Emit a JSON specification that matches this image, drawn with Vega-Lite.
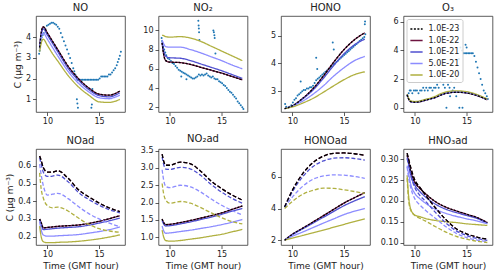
{
"$schema": "https://vega.github.io/schema/vega-lite/v6.json",
"padding": {"left": 5, "top": 2, "right": 3, "bottom": 2},
"config": {
  "view": {"stroke": "#333", "strokeWidth": 0.8},
  "axis": {"grid": false, "domain": false, "tickColor": "#333", "tickSize": 3.5, "tickWidth": 0.8, "labelFont": "DejaVu Sans", "labelFontSize": 8, "labelColor": "#222", "labelPadding": 2, "titleFont": "DejaVu Sans", "titleFontSize": 9, "titleFontWeight": "normal", "titleColor": "#222", "titlePadding": 3},
  "title": {"font": "DejaVu Sans", "fontSize": 10, "fontWeight": "normal", "color": "#222", "offset": 3},
  "line": {"strokeWidth": 1.3}
},
"datasets": {
"obs": [
{"p":"NO","x":9.2,"y":3.2},{"p":"NO","x":9.25,"y":3.35},{"p":"NO","x":9.3,"y":3.5},{"p":"NO","x":9.35,"y":3.7},{"p":"NO","x":9.4,"y":3.85},{"p":"NO","x":9.45,"y":4.0},{"p":"NO","x":9.55,"y":4.1},{"p":"NO","x":9.65,"y":4.2},{"p":"NO","x":9.8,"y":4.4},{"p":"NO","x":9.95,"y":4.55},{"p":"NO","x":10.1,"y":4.6},{"p":"NO","x":10.25,"y":4.65},{"p":"NO","x":10.4,"y":4.7},{"p":"NO","x":10.55,"y":4.7},{"p":"NO","x":10.7,"y":4.65},{"p":"NO","x":10.85,"y":4.6},{"p":"NO","x":11.0,"y":4.5},{"p":"NO","x":11.15,"y":4.4},{"p":"NO","x":11.3,"y":4.2},{"p":"NO","x":11.45,"y":4.0},{"p":"NO","x":11.6,"y":3.8},{"p":"NO","x":11.75,"y":3.6},{"p":"NO","x":11.9,"y":3.4},{"p":"NO","x":12.05,"y":3.2},{"p":"NO","x":12.2,"y":3.0},{"p":"NO","x":12.35,"y":2.75},{"p":"NO","x":12.5,"y":2.5},{"p":"NO","x":12.6,"y":2.35},{"p":"NO","x":12.7,"y":2.2},{"p":"NO","x":12.8,"y":2.05},{"p":"NO","x":12.9,"y":1.95},{"p":"NO","x":13.0,"y":1.95},{"p":"NO","x":13.1,"y":1.95},{"p":"NO","x":13.25,"y":1.95},{"p":"NO","x":13.4,"y":1.95},{"p":"NO","x":13.55,"y":1.95},{"p":"NO","x":13.7,"y":1.95},{"p":"NO","x":13.85,"y":1.95},{"p":"NO","x":14.0,"y":1.95},{"p":"NO","x":14.15,"y":1.95},{"p":"NO","x":14.3,"y":1.95},{"p":"NO","x":14.45,"y":1.95},{"p":"NO","x":14.6,"y":1.95},{"p":"NO","x":14.75,"y":1.95},{"p":"NO","x":14.9,"y":1.95},{"p":"NO","x":15.05,"y":2.0},{"p":"NO","x":15.2,"y":2.1},{"p":"NO","x":15.35,"y":2.1},{"p":"NO","x":15.5,"y":2.1},{"p":"NO","x":15.65,"y":2.1},{"p":"NO","x":15.8,"y":2.1},{"p":"NO","x":15.95,"y":2.2},{"p":"NO","x":16.1,"y":2.2},{"p":"NO","x":16.25,"y":2.3},{"p":"NO","x":16.4,"y":2.4},{"p":"NO","x":16.55,"y":2.5},{"p":"NO","x":16.7,"y":2.65},{"p":"NO","x":16.8,"y":2.8},{"p":"NO","x":16.9,"y":2.95},{"p":"NO","x":17.0,"y":3.1},{"p":"NO","x":17.1,"y":3.3},{"p":"NO","x":12.85,"y":1.0},{"p":"NO","x":12.9,"y":0.8},{"p":"NO","x":12.95,"y":0.6},{"p":"NO","x":14.25,"y":0.6},{"p":"NO","x":14.3,"y":0.75},{"p":"NO","x":14.35,"y":1.5},
{"p":"NO2","x":9.2,"y":9.2},{"p":"NO2","x":9.25,"y":8.9},{"p":"NO2","x":9.3,"y":8.6},{"p":"NO2","x":9.35,"y":8.3},{"p":"NO2","x":9.45,"y":8.0},{"p":"NO2","x":9.55,"y":7.7},{"p":"NO2","x":9.65,"y":7.4},{"p":"NO2","x":9.8,"y":7.1},{"p":"NO2","x":9.95,"y":7.0},{"p":"NO2","x":10.1,"y":6.8},{"p":"NO2","x":10.25,"y":6.6},{"p":"NO2","x":10.4,"y":6.5},{"p":"NO2","x":10.55,"y":6.3},{"p":"NO2","x":10.7,"y":6.1},{"p":"NO2","x":10.85,"y":5.9},{"p":"NO2","x":11.0,"y":5.8},{"p":"NO2","x":11.15,"y":5.7},{"p":"NO2","x":11.3,"y":5.6},{"p":"NO2","x":11.45,"y":5.5},{"p":"NO2","x":11.6,"y":5.4},{"p":"NO2","x":11.75,"y":5.3},{"p":"NO2","x":11.9,"y":5.2},{"p":"NO2","x":12.05,"y":5.1},{"p":"NO2","x":12.2,"y":5.0},{"p":"NO2","x":12.35,"y":5.0},{"p":"NO2","x":12.5,"y":5.1},{"p":"NO2","x":12.65,"y":5.2},{"p":"NO2","x":12.8,"y":5.4},{"p":"NO2","x":12.95,"y":5.3},{"p":"NO2","x":13.1,"y":5.4},{"p":"NO2","x":13.25,"y":5.3},{"p":"NO2","x":13.4,"y":5.4},{"p":"NO2","x":13.55,"y":5.5},{"p":"NO2","x":13.7,"y":5.3},{"p":"NO2","x":13.85,"y":5.2},{"p":"NO2","x":14.0,"y":5.1},{"p":"NO2","x":14.15,"y":5.2},{"p":"NO2","x":14.3,"y":5.0},{"p":"NO2","x":14.45,"y":4.9},{"p":"NO2","x":14.6,"y":4.9},{"p":"NO2","x":14.75,"y":4.7},{"p":"NO2","x":14.9,"y":4.6},{"p":"NO2","x":15.05,"y":4.5},{"p":"NO2","x":15.2,"y":4.3},{"p":"NO2","x":15.35,"y":4.2},{"p":"NO2","x":15.5,"y":4.0},{"p":"NO2","x":15.65,"y":3.8},{"p":"NO2","x":15.8,"y":3.6},{"p":"NO2","x":15.95,"y":3.5},{"p":"NO2","x":16.1,"y":3.3},{"p":"NO2","x":16.25,"y":3.1},{"p":"NO2","x":16.4,"y":2.9},{"p":"NO2","x":16.55,"y":2.6},{"p":"NO2","x":16.7,"y":2.4},{"p":"NO2","x":16.85,"y":2.2},{"p":"NO2","x":17.0,"y":2.0},{"p":"NO2","x":17.1,"y":1.8},{"p":"NO2","x":12.75,"y":11.0},{"p":"NO2","x":12.78,"y":10.5},{"p":"NO2","x":12.8,"y":10.2},{"p":"NO2","x":12.82,"y":9.8},{"p":"NO2","x":12.85,"y":9.0},{"p":"NO2","x":14.2,"y":10.0},{"p":"NO2","x":14.25,"y":9.8},{"p":"NO2","x":14.3,"y":9.5},{"p":"NO2","x":14.33,"y":9.2},{"p":"NO2","x":14.4,"y":7.6},{"p":"NO2","x":11.1,"y":5.2},{"p":"NO2","x":11.6,"y":4.9},
{"p":"HONO","x":9.3,"y":2.55},{"p":"HONO","x":9.4,"y":2.45},{"p":"HONO","x":9.5,"y":2.4},{"p":"HONO","x":9.6,"y":2.42},{"p":"HONO","x":9.75,"y":2.45},{"p":"HONO","x":9.9,"y":2.5},{"p":"HONO","x":10.05,"y":2.6},{"p":"HONO","x":10.2,"y":2.7},{"p":"HONO","x":10.35,"y":2.75},{"p":"HONO","x":10.5,"y":2.85},{"p":"HONO","x":10.65,"y":2.9},{"p":"HONO","x":10.8,"y":2.95},{"p":"HONO","x":10.95,"y":3.0},{"p":"HONO","x":11.1,"y":3.05},{"p":"HONO","x":11.25,"y":3.05},{"p":"HONO","x":11.4,"y":3.1},{"p":"HONO","x":11.55,"y":3.1},{"p":"HONO","x":11.7,"y":3.15},{"p":"HONO","x":11.85,"y":3.15},{"p":"HONO","x":12.0,"y":3.2},{"p":"HONO","x":12.15,"y":3.3},{"p":"HONO","x":12.3,"y":3.4},{"p":"HONO","x":12.45,"y":3.45},{"p":"HONO","x":12.6,"y":3.5},{"p":"HONO","x":12.75,"y":3.55},{"p":"HONO","x":12.9,"y":3.6},{"p":"HONO","x":13.05,"y":3.65},{"p":"HONO","x":13.2,"y":3.7},{"p":"HONO","x":13.35,"y":3.75},{"p":"HONO","x":13.5,"y":3.8},{"p":"HONO","x":13.65,"y":3.85},{"p":"HONO","x":13.8,"y":3.9},{"p":"HONO","x":13.95,"y":3.95},{"p":"HONO","x":14.1,"y":4.0},{"p":"HONO","x":14.25,"y":4.05},{"p":"HONO","x":14.4,"y":4.1},{"p":"HONO","x":14.55,"y":4.15},{"p":"HONO","x":14.7,"y":4.2},{"p":"HONO","x":14.85,"y":4.25},{"p":"HONO","x":15.0,"y":4.3},{"p":"HONO","x":15.15,"y":4.35},{"p":"HONO","x":15.3,"y":4.4},{"p":"HONO","x":15.45,"y":4.45},{"p":"HONO","x":15.6,"y":4.5},{"p":"HONO","x":15.75,"y":4.55},{"p":"HONO","x":15.9,"y":4.6},{"p":"HONO","x":16.05,"y":4.65},{"p":"HONO","x":16.2,"y":4.7},{"p":"HONO","x":16.35,"y":4.75},{"p":"HONO","x":16.5,"y":4.8},{"p":"HONO","x":16.65,"y":4.85},{"p":"HONO","x":16.8,"y":4.9},{"p":"HONO","x":16.95,"y":4.95},{"p":"HONO","x":17.05,"y":5.05},{"p":"HONO","x":10.8,"y":3.35},{"p":"HONO","x":12.3,"y":4.2},{"p":"HONO","x":12.4,"y":3.8},{"p":"HONO","x":13.9,"y":4.75},{"p":"HONO","x":14.0,"y":4.5},{"p":"HONO","x":17.0,"y":5.4},{"p":"HONO","x":17.02,"y":5.5},
{"p":"O3","x":9.3,"y":0.8},{"p":"O3","x":9.4,"y":1.0},{"p":"O3","x":9.5,"y":1.2},{"p":"O3","x":9.6,"y":1.2},{"p":"O3","x":9.75,"y":1.0},{"p":"O3","x":9.9,"y":1.2},{"p":"O3","x":10.05,"y":1.2},{"p":"O3","x":10.2,"y":1.2},{"p":"O3","x":10.35,"y":1.0},{"p":"O3","x":10.5,"y":1.2},{"p":"O3","x":10.65,"y":1.2},{"p":"O3","x":10.8,"y":1.4},{"p":"O3","x":10.95,"y":1.2},{"p":"O3","x":11.1,"y":1.4},{"p":"O3","x":11.25,"y":1.2},{"p":"O3","x":11.4,"y":1.4},{"p":"O3","x":11.55,"y":1.4},{"p":"O3","x":11.7,"y":1.2},{"p":"O3","x":11.85,"y":1.4},{"p":"O3","x":12.0,"y":1.4},{"p":"O3","x":12.15,"y":1.6},{"p":"O3","x":12.3,"y":1.4},{"p":"O3","x":12.45,"y":1.8},{"p":"O3","x":12.6,"y":2.0},{"p":"O3","x":12.75,"y":1.6},{"p":"O3","x":12.9,"y":1.4},{"p":"O3","x":13.05,"y":0.0},{"p":"O3","x":13.2,"y":1.6},{"p":"O3","x":13.35,"y":1.4},{"p":"O3","x":13.5,"y":1.8},{"p":"O3","x":13.65,"y":1.2},{"p":"O3","x":13.8,"y":1.4},{"p":"O3","x":13.95,"y":2.0},{"p":"O3","x":14.1,"y":2.6},{"p":"O3","x":14.25,"y":3.4},{"p":"O3","x":14.4,"y":4.2},{"p":"O3","x":14.55,"y":4.0},{"p":"O3","x":14.7,"y":3.8},{"p":"O3","x":14.85,"y":3.8},{"p":"O3","x":15.0,"y":3.8},{"p":"O3","x":15.15,"y":3.8},{"p":"O3","x":15.3,"y":3.8},{"p":"O3","x":15.45,"y":3.8},{"p":"O3","x":15.6,"y":3.8},{"p":"O3","x":15.75,"y":3.6},{"p":"O3","x":15.9,"y":3.2},{"p":"O3","x":16.05,"y":2.8},{"p":"O3","x":16.2,"y":2.4},{"p":"O3","x":16.35,"y":2.0},{"p":"O3","x":16.5,"y":1.6},{"p":"O3","x":16.65,"y":1.2},{"p":"O3","x":16.8,"y":1.0},{"p":"O3","x":16.95,"y":0.8},{"p":"O3","x":17.05,"y":0.6},{"p":"O3","x":14.3,"y":0.0},{"p":"O3","x":14.6,"y":0.0},{"p":"O3","x":13.4,"y":0.8},{"p":"O3","x":14.0,"y":0.8},{"p":"O3","x":14.9,"y":4.4},{"p":"O3","x":15.0,"y":4.2}
],
"lines": [
{"p":"NO","s":"1.0E-22","x":9.25,"y":3.5},{"p":"NO","s":"1.0E-22","x":9.4,"y":4.2},{"p":"NO","s":"1.0E-22","x":9.6,"y":4.5},{"p":"NO","s":"1.0E-22","x":10,"y":4.2},{"p":"NO","s":"1.0E-22","x":10.5,"y":3.8},{"p":"NO","s":"1.0E-22","x":11,"y":3.4},{"p":"NO","s":"1.0E-22","x":12,"y":2.6},{"p":"NO","s":"1.0E-22","x":13,"y":2.0},{"p":"NO","s":"1.0E-22","x":14,"y":1.55},{"p":"NO","s":"1.0E-22","x":15,"y":1.25},{"p":"NO","s":"1.0E-22","x":16,"y":1.2},{"p":"NO","s":"1.0E-22","x":16.5,"y":1.27},{"p":"NO","s":"1.0E-22","x":17,"y":1.4},
{"p":"NO","s":"1.0E-21","x":9.25,"y":3.45},{"p":"NO","s":"1.0E-21","x":9.4,"y":4.1},{"p":"NO","s":"1.0E-21","x":9.6,"y":4.4},{"p":"NO","s":"1.0E-21","x":10,"y":4.1},{"p":"NO","s":"1.0E-21","x":10.5,"y":3.7},{"p":"NO","s":"1.0E-21","x":11,"y":3.3},{"p":"NO","s":"1.0E-21","x":12,"y":2.5},{"p":"NO","s":"1.0E-21","x":13,"y":1.92},{"p":"NO","s":"1.0E-21","x":14,"y":1.47},{"p":"NO","s":"1.0E-21","x":15,"y":1.18},{"p":"NO","s":"1.0E-21","x":16,"y":1.12},{"p":"NO","s":"1.0E-21","x":16.5,"y":1.19},{"p":"NO","s":"1.0E-21","x":17,"y":1.32},
{"p":"NO","s":"5.0E-21","x":9.25,"y":3.4},{"p":"NO","s":"5.0E-21","x":9.4,"y":3.95},{"p":"NO","s":"5.0E-21","x":9.6,"y":4.2},{"p":"NO","s":"5.0E-21","x":10,"y":3.9},{"p":"NO","s":"5.0E-21","x":10.5,"y":3.5},{"p":"NO","s":"5.0E-21","x":11,"y":3.1},{"p":"NO","s":"5.0E-21","x":12,"y":2.35},{"p":"NO","s":"5.0E-21","x":13,"y":1.78},{"p":"NO","s":"5.0E-21","x":14,"y":1.36},{"p":"NO","s":"5.0E-21","x":15,"y":1.08},{"p":"NO","s":"5.0E-21","x":16,"y":1.03},{"p":"NO","s":"5.0E-21","x":16.5,"y":1.1},{"p":"NO","s":"5.0E-21","x":17,"y":1.2},
{"p":"NO","s":"1.0E-20","x":9.25,"y":3.3},{"p":"NO","s":"1.0E-20","x":9.4,"y":3.7},{"p":"NO","s":"1.0E-20","x":9.6,"y":3.9},{"p":"NO","s":"1.0E-20","x":10,"y":3.6},{"p":"NO","s":"1.0E-20","x":10.5,"y":3.2},{"p":"NO","s":"1.0E-20","x":11,"y":2.85},{"p":"NO","s":"1.0E-20","x":12,"y":2.15},{"p":"NO","s":"1.0E-20","x":13,"y":1.6},{"p":"NO","s":"1.0E-20","x":14,"y":1.2},{"p":"NO","s":"1.0E-20","x":15,"y":0.88},{"p":"NO","s":"1.0E-20","x":16,"y":0.85},{"p":"NO","s":"1.0E-20","x":16.5,"y":0.9},{"p":"NO","s":"1.0E-20","x":17,"y":1.0},
{"p":"NO","s":"1.0E-23","x":9.25,"y":3.5},{"p":"NO","s":"1.0E-23","x":9.4,"y":4.2},{"p":"NO","s":"1.0E-23","x":9.6,"y":4.5},{"p":"NO","s":"1.0E-23","x":10,"y":4.2},{"p":"NO","s":"1.0E-23","x":10.5,"y":3.8},{"p":"NO","s":"1.0E-23","x":11,"y":3.4},{"p":"NO","s":"1.0E-23","x":12,"y":2.6},{"p":"NO","s":"1.0E-23","x":13,"y":2.0},{"p":"NO","s":"1.0E-23","x":14,"y":1.55},{"p":"NO","s":"1.0E-23","x":15,"y":1.25},{"p":"NO","s":"1.0E-23","x":16,"y":1.2},{"p":"NO","s":"1.0E-23","x":16.5,"y":1.27},{"p":"NO","s":"1.0E-23","x":17,"y":1.4},
{"p":"NO2","s":"1.0E-22","x":9.25,"y":8.7},{"p":"NO2","s":"1.0E-22","x":9.4,"y":7.5},{"p":"NO2","s":"1.0E-22","x":9.6,"y":6.85},{"p":"NO2","s":"1.0E-22","x":10,"y":6.7},{"p":"NO2","s":"1.0E-22","x":11,"y":6.65},{"p":"NO2","s":"1.0E-22","x":12,"y":6.45},{"p":"NO2","s":"1.0E-22","x":13,"y":6.15},{"p":"NO2","s":"1.0E-22","x":14,"y":5.85},{"p":"NO2","s":"1.0E-22","x":15,"y":5.55},{"p":"NO2","s":"1.0E-22","x":16,"y":5.2},{"p":"NO2","s":"1.0E-22","x":17,"y":4.85},
{"p":"NO2","s":"1.0E-21","x":9.25,"y":8.8},{"p":"NO2","s":"1.0E-21","x":9.4,"y":7.9},{"p":"NO2","s":"1.0E-21","x":9.6,"y":7.3},{"p":"NO2","s":"1.0E-21","x":10,"y":7.15},{"p":"NO2","s":"1.0E-21","x":11,"y":7.1},{"p":"NO2","s":"1.0E-21","x":12,"y":6.85},{"p":"NO2","s":"1.0E-21","x":13,"y":6.5},{"p":"NO2","s":"1.0E-21","x":14,"y":6.15},{"p":"NO2","s":"1.0E-21","x":15,"y":5.8},{"p":"NO2","s":"1.0E-21","x":16,"y":5.4},{"p":"NO2","s":"1.0E-21","x":17,"y":5.0},
{"p":"NO2","s":"5.0E-21","x":9.25,"y":9.0},{"p":"NO2","s":"5.0E-21","x":9.4,"y":8.6},{"p":"NO2","s":"5.0E-21","x":9.6,"y":8.3},{"p":"NO2","s":"5.0E-21","x":10,"y":8.25},{"p":"NO2","s":"5.0E-21","x":11,"y":8.25},{"p":"NO2","s":"5.0E-21","x":12,"y":8.0},{"p":"NO2","s":"5.0E-21","x":13,"y":7.65},{"p":"NO2","s":"5.0E-21","x":14,"y":7.25},{"p":"NO2","s":"5.0E-21","x":15,"y":6.85},{"p":"NO2","s":"5.0E-21","x":16,"y":6.4},{"p":"NO2","s":"5.0E-21","x":17,"y":6.0},
{"p":"NO2","s":"1.0E-20","x":9.25,"y":9.5},{"p":"NO2","s":"1.0E-20","x":9.4,"y":9.45},{"p":"NO2","s":"1.0E-20","x":9.6,"y":9.35},{"p":"NO2","s":"1.0E-20","x":10,"y":9.3},{"p":"NO2","s":"1.0E-20","x":11,"y":9.35},{"p":"NO2","s":"1.0E-20","x":12,"y":9.2},{"p":"NO2","s":"1.0E-20","x":13,"y":8.85},{"p":"NO2","s":"1.0E-20","x":14,"y":8.35},{"p":"NO2","s":"1.0E-20","x":15,"y":7.85},{"p":"NO2","s":"1.0E-20","x":16,"y":7.35},{"p":"NO2","s":"1.0E-20","x":17,"y":6.85},
{"p":"NO2","s":"1.0E-23","x":9.25,"y":8.7},{"p":"NO2","s":"1.0E-23","x":9.4,"y":7.5},{"p":"NO2","s":"1.0E-23","x":9.6,"y":6.85},{"p":"NO2","s":"1.0E-23","x":10,"y":6.7},{"p":"NO2","s":"1.0E-23","x":11,"y":6.65},{"p":"NO2","s":"1.0E-23","x":12,"y":6.45},{"p":"NO2","s":"1.0E-23","x":13,"y":6.15},{"p":"NO2","s":"1.0E-23","x":14,"y":5.85},{"p":"NO2","s":"1.0E-23","x":15,"y":5.55},{"p":"NO2","s":"1.0E-23","x":16,"y":5.2},{"p":"NO2","s":"1.0E-23","x":17,"y":4.85},
{"p":"HONO","s":"1.0E-22","x":9.25,"y":2.38},{"p":"HONO","s":"1.0E-22","x":10,"y":2.48},{"p":"HONO","s":"1.0E-22","x":11,"y":2.75},{"p":"HONO","s":"1.0E-22","x":12,"y":3.1},{"p":"HONO","s":"1.0E-22","x":13,"y":3.55},{"p":"HONO","s":"1.0E-22","x":14,"y":4.05},{"p":"HONO","s":"1.0E-22","x":15,"y":4.5},{"p":"HONO","s":"1.0E-22","x":16,"y":4.85},{"p":"HONO","s":"1.0E-22","x":17,"y":5.1},
{"p":"HONO","s":"1.0E-21","x":9.25,"y":2.38},{"p":"HONO","s":"1.0E-21","x":10,"y":2.48},{"p":"HONO","s":"1.0E-21","x":11,"y":2.73},{"p":"HONO","s":"1.0E-21","x":12,"y":3.05},{"p":"HONO","s":"1.0E-21","x":13,"y":3.47},{"p":"HONO","s":"1.0E-21","x":14,"y":3.93},{"p":"HONO","s":"1.0E-21","x":15,"y":4.35},{"p":"HONO","s":"1.0E-21","x":16,"y":4.67},{"p":"HONO","s":"1.0E-21","x":17,"y":4.87},
{"p":"HONO","s":"5.0E-21","x":9.25,"y":2.38},{"p":"HONO","s":"5.0E-21","x":10,"y":2.46},{"p":"HONO","s":"5.0E-21","x":11,"y":2.65},{"p":"HONO","s":"5.0E-21","x":12,"y":2.9},{"p":"HONO","s":"5.0E-21","x":13,"y":3.2},{"p":"HONO","s":"5.0E-21","x":14,"y":3.55},{"p":"HONO","s":"5.0E-21","x":15,"y":3.85},{"p":"HONO","s":"5.0E-21","x":16,"y":4.1},{"p":"HONO","s":"5.0E-21","x":17,"y":4.25},
{"p":"HONO","s":"1.0E-20","x":9.25,"y":2.38},{"p":"HONO","s":"1.0E-20","x":10,"y":2.44},{"p":"HONO","s":"1.0E-20","x":11,"y":2.58},{"p":"HONO","s":"1.0E-20","x":12,"y":2.75},{"p":"HONO","s":"1.0E-20","x":13,"y":2.97},{"p":"HONO","s":"1.0E-20","x":14,"y":3.2},{"p":"HONO","s":"1.0E-20","x":15,"y":3.42},{"p":"HONO","s":"1.0E-20","x":16,"y":3.6},{"p":"HONO","s":"1.0E-20","x":17,"y":3.7},
{"p":"HONO","s":"1.0E-23","x":9.25,"y":2.38},{"p":"HONO","s":"1.0E-23","x":10,"y":2.48},{"p":"HONO","s":"1.0E-23","x":11,"y":2.75},{"p":"HONO","s":"1.0E-23","x":12,"y":3.1},{"p":"HONO","s":"1.0E-23","x":13,"y":3.55},{"p":"HONO","s":"1.0E-23","x":14,"y":4.05},{"p":"HONO","s":"1.0E-23","x":15,"y":4.5},{"p":"HONO","s":"1.0E-23","x":16,"y":4.85},{"p":"HONO","s":"1.0E-23","x":17,"y":5.1},
{"p":"O3","s":"1.0E-22","x":9.25,"y":0.9},{"p":"O3","s":"1.0E-22","x":9.4,"y":0.6},{"p":"O3","s":"1.0E-22","x":9.6,"y":0.42},{"p":"O3","s":"1.0E-22","x":10,"y":0.38},{"p":"O3","s":"1.0E-22","x":10.5,"y":0.42},{"p":"O3","s":"1.0E-22","x":11,"y":0.52},{"p":"O3","s":"1.0E-22","x":12,"y":0.72},{"p":"O3","s":"1.0E-22","x":12.5,"y":0.88},{"p":"O3","s":"1.0E-22","x":13,"y":1.0},{"p":"O3","s":"1.0E-22","x":14,"y":1.08},{"p":"O3","s":"1.0E-22","x":15,"y":1.03},{"p":"O3","s":"1.0E-22","x":16,"y":0.85},{"p":"O3","s":"1.0E-22","x":17,"y":0.55},
{"p":"O3","s":"1.0E-21","x":9.25,"y":0.9},{"p":"O3","s":"1.0E-21","x":9.4,"y":0.6},{"p":"O3","s":"1.0E-21","x":9.6,"y":0.43},{"p":"O3","s":"1.0E-21","x":10,"y":0.39},{"p":"O3","s":"1.0E-21","x":10.5,"y":0.43},{"p":"O3","s":"1.0E-21","x":11,"y":0.53},{"p":"O3","s":"1.0E-21","x":12,"y":0.73},{"p":"O3","s":"1.0E-21","x":12.5,"y":0.89},{"p":"O3","s":"1.0E-21","x":13,"y":1.01},{"p":"O3","s":"1.0E-21","x":14,"y":1.09},{"p":"O3","s":"1.0E-21","x":15,"y":1.04},{"p":"O3","s":"1.0E-21","x":16,"y":0.86},{"p":"O3","s":"1.0E-21","x":17,"y":0.56},
{"p":"O3","s":"5.0E-21","x":9.25,"y":0.92},{"p":"O3","s":"5.0E-21","x":9.4,"y":0.62},{"p":"O3","s":"5.0E-21","x":9.6,"y":0.44},{"p":"O3","s":"5.0E-21","x":10,"y":0.4},{"p":"O3","s":"5.0E-21","x":10.5,"y":0.45},{"p":"O3","s":"5.0E-21","x":11,"y":0.55},{"p":"O3","s":"5.0E-21","x":12,"y":0.76},{"p":"O3","s":"5.0E-21","x":12.5,"y":0.93},{"p":"O3","s":"5.0E-21","x":13,"y":1.05},{"p":"O3","s":"5.0E-21","x":14,"y":1.13},{"p":"O3","s":"5.0E-21","x":15,"y":1.08},{"p":"O3","s":"5.0E-21","x":16,"y":0.89},{"p":"O3","s":"5.0E-21","x":17,"y":0.58},
{"p":"O3","s":"1.0E-20","x":9.25,"y":0.95},{"p":"O3","s":"1.0E-20","x":9.4,"y":0.65},{"p":"O3","s":"1.0E-20","x":9.6,"y":0.47},{"p":"O3","s":"1.0E-20","x":10,"y":0.43},{"p":"O3","s":"1.0E-20","x":10.5,"y":0.48},{"p":"O3","s":"1.0E-20","x":11,"y":0.58},{"p":"O3","s":"1.0E-20","x":12,"y":0.8},{"p":"O3","s":"1.0E-20","x":12.5,"y":0.98},{"p":"O3","s":"1.0E-20","x":13,"y":1.1},{"p":"O3","s":"1.0E-20","x":14,"y":1.18},{"p":"O3","s":"1.0E-20","x":15,"y":1.12},{"p":"O3","s":"1.0E-20","x":16,"y":0.92},{"p":"O3","s":"1.0E-20","x":17,"y":0.6},
{"p":"O3","s":"1.0E-23","x":9.25,"y":0.9},{"p":"O3","s":"1.0E-23","x":9.4,"y":0.6},{"p":"O3","s":"1.0E-23","x":9.6,"y":0.42},{"p":"O3","s":"1.0E-23","x":10,"y":0.38},{"p":"O3","s":"1.0E-23","x":10.5,"y":0.42},{"p":"O3","s":"1.0E-23","x":11,"y":0.52},{"p":"O3","s":"1.0E-23","x":12,"y":0.72},{"p":"O3","s":"1.0E-23","x":12.5,"y":0.88},{"p":"O3","s":"1.0E-23","x":13,"y":1.0},{"p":"O3","s":"1.0E-23","x":14,"y":1.08},{"p":"O3","s":"1.0E-23","x":15,"y":1.03},{"p":"O3","s":"1.0E-23","x":16,"y":0.85},{"p":"O3","s":"1.0E-23","x":17,"y":0.55},
{"p":"NOa","k":"a","s":"1.0E-22","x":9.25,"y":0.30},{"p":"NOa","k":"a","s":"1.0E-22","x":9.4,"y":0.28},{"p":"NOa","k":"a","s":"1.0E-22","x":9.6,"y":0.25},{"p":"NOa","k":"a","s":"1.0E-22","x":10,"y":0.252},{"p":"NOa","k":"a","s":"1.0E-22","x":10.5,"y":0.255},{"p":"NOa","k":"a","s":"1.0E-22","x":11,"y":0.258},{"p":"NOa","k":"a","s":"1.0E-22","x":12,"y":0.262},{"p":"NOa","k":"a","s":"1.0E-22","x":13,"y":0.266},{"p":"NOa","k":"a","s":"1.0E-22","x":14,"y":0.275},{"p":"NOa","k":"a","s":"1.0E-22","x":15,"y":0.287},{"p":"NOa","k":"a","s":"1.0E-22","x":16,"y":0.302},{"p":"NOa","k":"a","s":"1.0E-22","x":17,"y":0.318},
{"p":"NOa","k":"a","s":"1.0E-21","x":9.25,"y":0.295},{"p":"NOa","k":"a","s":"1.0E-21","x":9.4,"y":0.27},{"p":"NOa","k":"a","s":"1.0E-21","x":9.6,"y":0.24},{"p":"NOa","k":"a","s":"1.0E-21","x":10,"y":0.242},{"p":"NOa","k":"a","s":"1.0E-21","x":10.5,"y":0.245},{"p":"NOa","k":"a","s":"1.0E-21","x":11,"y":0.248},{"p":"NOa","k":"a","s":"1.0E-21","x":12,"y":0.252},{"p":"NOa","k":"a","s":"1.0E-21","x":13,"y":0.256},{"p":"NOa","k":"a","s":"1.0E-21","x":14,"y":0.265},{"p":"NOa","k":"a","s":"1.0E-21","x":15,"y":0.277},{"p":"NOa","k":"a","s":"1.0E-21","x":16,"y":0.29},{"p":"NOa","k":"a","s":"1.0E-21","x":17,"y":0.305},
{"p":"NOa","k":"a","s":"5.0E-21","x":9.25,"y":0.285},{"p":"NOa","k":"a","s":"5.0E-21","x":9.4,"y":0.24},{"p":"NOa","k":"a","s":"5.0E-21","x":9.6,"y":0.21},{"p":"NOa","k":"a","s":"5.0E-21","x":10,"y":0.203},{"p":"NOa","k":"a","s":"5.0E-21","x":10.5,"y":0.203},{"p":"NOa","k":"a","s":"5.0E-21","x":11,"y":0.205},{"p":"NOa","k":"a","s":"5.0E-21","x":12,"y":0.208},{"p":"NOa","k":"a","s":"5.0E-21","x":13,"y":0.212},{"p":"NOa","k":"a","s":"5.0E-21","x":14,"y":0.22},{"p":"NOa","k":"a","s":"5.0E-21","x":15,"y":0.229},{"p":"NOa","k":"a","s":"5.0E-21","x":16,"y":0.24},{"p":"NOa","k":"a","s":"5.0E-21","x":17,"y":0.255},
{"p":"NOa","k":"a","s":"1.0E-20","x":9.25,"y":0.26},{"p":"NOa","k":"a","s":"1.0E-20","x":9.4,"y":0.2},{"p":"NOa","k":"a","s":"1.0E-20","x":9.6,"y":0.172},{"p":"NOa","k":"a","s":"1.0E-20","x":10,"y":0.166},{"p":"NOa","k":"a","s":"1.0E-20","x":10.5,"y":0.166},{"p":"NOa","k":"a","s":"1.0E-20","x":11,"y":0.168},{"p":"NOa","k":"a","s":"1.0E-20","x":12,"y":0.17},{"p":"NOa","k":"a","s":"1.0E-20","x":13,"y":0.174},{"p":"NOa","k":"a","s":"1.0E-20","x":14,"y":0.18},{"p":"NOa","k":"a","s":"1.0E-20","x":15,"y":0.188},{"p":"NOa","k":"a","s":"1.0E-20","x":16,"y":0.198},{"p":"NOa","k":"a","s":"1.0E-20","x":17,"y":0.21},
{"p":"NOa","k":"a","s":"1.0E-23","x":9.25,"y":0.30},{"p":"NOa","k":"a","s":"1.0E-23","x":9.4,"y":0.28},{"p":"NOa","k":"a","s":"1.0E-23","x":9.6,"y":0.25},{"p":"NOa","k":"a","s":"1.0E-23","x":10,"y":0.252},{"p":"NOa","k":"a","s":"1.0E-23","x":10.5,"y":0.255},{"p":"NOa","k":"a","s":"1.0E-23","x":11,"y":0.258},{"p":"NOa","k":"a","s":"1.0E-23","x":12,"y":0.262},{"p":"NOa","k":"a","s":"1.0E-23","x":13,"y":0.266},{"p":"NOa","k":"a","s":"1.0E-23","x":14,"y":0.275},{"p":"NOa","k":"a","s":"1.0E-23","x":15,"y":0.287},{"p":"NOa","k":"a","s":"1.0E-23","x":16,"y":0.302},{"p":"NOa","k":"a","s":"1.0E-23","x":17,"y":0.318},
{"p":"NOa","k":"b","s":"1.0E-22","x":9.25,"y":0.655},{"p":"NOa","k":"b","s":"1.0E-22","x":9.4,"y":0.63},{"p":"NOa","k":"b","s":"1.0E-22","x":9.6,"y":0.59},{"p":"NOa","k":"b","s":"1.0E-22","x":10,"y":0.565},{"p":"NOa","k":"b","s":"1.0E-22","x":10.5,"y":0.565},{"p":"NOa","k":"b","s":"1.0E-22","x":11,"y":0.572},{"p":"NOa","k":"b","s":"1.0E-22","x":12,"y":0.53},{"p":"NOa","k":"b","s":"1.0E-22","x":13,"y":0.465},{"p":"NOa","k":"b","s":"1.0E-22","x":14,"y":0.425},{"p":"NOa","k":"b","s":"1.0E-22","x":15,"y":0.39},{"p":"NOa","k":"b","s":"1.0E-22","x":16,"y":0.362},{"p":"NOa","k":"b","s":"1.0E-22","x":17,"y":0.342},
{"p":"NOa","k":"b","s":"1.0E-21","x":9.25,"y":0.645},{"p":"NOa","k":"b","s":"1.0E-21","x":9.4,"y":0.61},{"p":"NOa","k":"b","s":"1.0E-21","x":9.6,"y":0.565},{"p":"NOa","k":"b","s":"1.0E-21","x":10,"y":0.54},{"p":"NOa","k":"b","s":"1.0E-21","x":10.5,"y":0.542},{"p":"NOa","k":"b","s":"1.0E-21","x":11,"y":0.548},{"p":"NOa","k":"b","s":"1.0E-21","x":12,"y":0.51},{"p":"NOa","k":"b","s":"1.0E-21","x":13,"y":0.45},{"p":"NOa","k":"b","s":"1.0E-21","x":14,"y":0.41},{"p":"NOa","k":"b","s":"1.0E-21","x":15,"y":0.378},{"p":"NOa","k":"b","s":"1.0E-21","x":16,"y":0.352},{"p":"NOa","k":"b","s":"1.0E-21","x":17,"y":0.335},
{"p":"NOa","k":"b","s":"5.0E-21","x":9.25,"y":0.61},{"p":"NOa","k":"b","s":"5.0E-21","x":9.4,"y":0.55},{"p":"NOa","k":"b","s":"5.0E-21","x":9.6,"y":0.49},{"p":"NOa","k":"b","s":"5.0E-21","x":10,"y":0.435},{"p":"NOa","k":"b","s":"5.0E-21","x":10.5,"y":0.44},{"p":"NOa","k":"b","s":"5.0E-21","x":11,"y":0.445},{"p":"NOa","k":"b","s":"5.0E-21","x":12,"y":0.415},{"p":"NOa","k":"b","s":"5.0E-21","x":13,"y":0.37},{"p":"NOa","k":"b","s":"5.0E-21","x":14,"y":0.33},{"p":"NOa","k":"b","s":"5.0E-21","x":15,"y":0.3},{"p":"NOa","k":"b","s":"5.0E-21","x":16,"y":0.276},{"p":"NOa","k":"b","s":"5.0E-21","x":17,"y":0.256},
{"p":"NOa","k":"b","s":"1.0E-20","x":9.25,"y":0.56},{"p":"NOa","k":"b","s":"1.0E-20","x":9.4,"y":0.47},{"p":"NOa","k":"b","s":"1.0E-20","x":9.6,"y":0.42},{"p":"NOa","k":"b","s":"1.0E-20","x":10,"y":0.375},{"p":"NOa","k":"b","s":"1.0E-20","x":10.5,"y":0.363},{"p":"NOa","k":"b","s":"1.0E-20","x":11,"y":0.367},{"p":"NOa","k":"b","s":"1.0E-20","x":12,"y":0.345},{"p":"NOa","k":"b","s":"1.0E-20","x":13,"y":0.305},{"p":"NOa","k":"b","s":"1.0E-20","x":14,"y":0.27},{"p":"NOa","k":"b","s":"1.0E-20","x":15,"y":0.245},{"p":"NOa","k":"b","s":"1.0E-20","x":16,"y":0.232},{"p":"NOa","k":"b","s":"1.0E-20","x":17,"y":0.225},
{"p":"NOa","k":"b","s":"1.0E-23","x":9.25,"y":0.655},{"p":"NOa","k":"b","s":"1.0E-23","x":9.4,"y":0.63},{"p":"NOa","k":"b","s":"1.0E-23","x":9.6,"y":0.59},{"p":"NOa","k":"b","s":"1.0E-23","x":10,"y":0.565},{"p":"NOa","k":"b","s":"1.0E-23","x":10.5,"y":0.565},{"p":"NOa","k":"b","s":"1.0E-23","x":11,"y":0.572},{"p":"NOa","k":"b","s":"1.0E-23","x":12,"y":0.53},{"p":"NOa","k":"b","s":"1.0E-23","x":13,"y":0.465},{"p":"NOa","k":"b","s":"1.0E-23","x":14,"y":0.425},{"p":"NOa","k":"b","s":"1.0E-23","x":15,"y":0.39},{"p":"NOa","k":"b","s":"1.0E-23","x":16,"y":0.362},{"p":"NOa","k":"b","s":"1.0E-23","x":17,"y":0.342},
{"p":"NO2a","k":"a","s":"1.0E-22","x":9.25,"y":1.52},{"p":"NO2a","k":"a","s":"1.0E-22","x":9.4,"y":1.42},{"p":"NO2a","k":"a","s":"1.0E-22","x":9.6,"y":1.36},{"p":"NO2a","k":"a","s":"1.0E-22","x":10,"y":1.37},{"p":"NO2a","k":"a","s":"1.0E-22","x":11,"y":1.42},{"p":"NO2a","k":"a","s":"1.0E-22","x":12,"y":1.48},{"p":"NO2a","k":"a","s":"1.0E-22","x":13,"y":1.55},{"p":"NO2a","k":"a","s":"1.0E-22","x":14,"y":1.62},{"p":"NO2a","k":"a","s":"1.0E-22","x":15,"y":1.7},{"p":"NO2a","k":"a","s":"1.0E-22","x":16,"y":1.8},{"p":"NO2a","k":"a","s":"1.0E-22","x":17,"y":1.9},
{"p":"NO2a","k":"a","s":"1.0E-21","x":9.25,"y":1.48},{"p":"NO2a","k":"a","s":"1.0E-21","x":9.4,"y":1.38},{"p":"NO2a","k":"a","s":"1.0E-21","x":9.6,"y":1.32},{"p":"NO2a","k":"a","s":"1.0E-21","x":10,"y":1.33},{"p":"NO2a","k":"a","s":"1.0E-21","x":11,"y":1.38},{"p":"NO2a","k":"a","s":"1.0E-21","x":12,"y":1.44},{"p":"NO2a","k":"a","s":"1.0E-21","x":13,"y":1.51},{"p":"NO2a","k":"a","s":"1.0E-21","x":14,"y":1.58},{"p":"NO2a","k":"a","s":"1.0E-21","x":15,"y":1.66},{"p":"NO2a","k":"a","s":"1.0E-21","x":16,"y":1.75},{"p":"NO2a","k":"a","s":"1.0E-21","x":17,"y":1.83},
{"p":"NO2a","k":"a","s":"5.0E-21","x":9.25,"y":1.32},{"p":"NO2a","k":"a","s":"5.0E-21","x":9.4,"y":1.18},{"p":"NO2a","k":"a","s":"5.0E-21","x":9.6,"y":1.11},{"p":"NO2a","k":"a","s":"5.0E-21","x":10,"y":1.12},{"p":"NO2a","k":"a","s":"5.0E-21","x":11,"y":1.16},{"p":"NO2a","k":"a","s":"5.0E-21","x":12,"y":1.2},{"p":"NO2a","k":"a","s":"5.0E-21","x":13,"y":1.25},{"p":"NO2a","k":"a","s":"5.0E-21","x":14,"y":1.3},{"p":"NO2a","k":"a","s":"5.0E-21","x":15,"y":1.36},{"p":"NO2a","k":"a","s":"5.0E-21","x":16,"y":1.43},{"p":"NO2a","k":"a","s":"5.0E-21","x":17,"y":1.51},
{"p":"NO2a","k":"a","s":"1.0E-20","x":9.25,"y":1.2},{"p":"NO2a","k":"a","s":"1.0E-20","x":9.4,"y":1.0},{"p":"NO2a","k":"a","s":"1.0E-20","x":9.6,"y":0.9},{"p":"NO2a","k":"a","s":"1.0E-20","x":10,"y":0.88},{"p":"NO2a","k":"a","s":"1.0E-20","x":11,"y":0.9},{"p":"NO2a","k":"a","s":"1.0E-20","x":12,"y":0.94},{"p":"NO2a","k":"a","s":"1.0E-20","x":13,"y":0.98},{"p":"NO2a","k":"a","s":"1.0E-20","x":14,"y":1.03},{"p":"NO2a","k":"a","s":"1.0E-20","x":15,"y":1.08},{"p":"NO2a","k":"a","s":"1.0E-20","x":16,"y":1.15},{"p":"NO2a","k":"a","s":"1.0E-20","x":17,"y":1.22},
{"p":"NO2a","k":"a","s":"1.0E-23","x":9.25,"y":1.52},{"p":"NO2a","k":"a","s":"1.0E-23","x":9.4,"y":1.42},{"p":"NO2a","k":"a","s":"1.0E-23","x":9.6,"y":1.36},{"p":"NO2a","k":"a","s":"1.0E-23","x":10,"y":1.37},{"p":"NO2a","k":"a","s":"1.0E-23","x":11,"y":1.42},{"p":"NO2a","k":"a","s":"1.0E-23","x":12,"y":1.48},{"p":"NO2a","k":"a","s":"1.0E-23","x":13,"y":1.55},{"p":"NO2a","k":"a","s":"1.0E-23","x":14,"y":1.62},{"p":"NO2a","k":"a","s":"1.0E-23","x":15,"y":1.7},{"p":"NO2a","k":"a","s":"1.0E-23","x":16,"y":1.8},{"p":"NO2a","k":"a","s":"1.0E-23","x":17,"y":1.9},
{"p":"NO2a","k":"b","s":"1.0E-22","x":9.25,"y":3.4},{"p":"NO2a","k":"b","s":"1.0E-22","x":9.4,"y":3.2},{"p":"NO2a","k":"b","s":"1.0E-22","x":9.6,"y":3.08},{"p":"NO2a","k":"b","s":"1.0E-22","x":10,"y":3.08},{"p":"NO2a","k":"b","s":"1.0E-22","x":11,"y":3.17},{"p":"NO2a","k":"b","s":"1.0E-22","x":12,"y":3.12},{"p":"NO2a","k":"b","s":"1.0E-22","x":13,"y":2.9},{"p":"NO2a","k":"b","s":"1.0E-22","x":14,"y":2.62},{"p":"NO2a","k":"b","s":"1.0E-22","x":15,"y":2.4},{"p":"NO2a","k":"b","s":"1.0E-22","x":16,"y":2.22},{"p":"NO2a","k":"b","s":"1.0E-22","x":17,"y":2.07},
{"p":"NO2a","k":"b","s":"1.0E-21","x":9.25,"y":3.32},{"p":"NO2a","k":"b","s":"1.0E-21","x":9.4,"y":3.1},{"p":"NO2a","k":"b","s":"1.0E-21","x":9.6,"y":2.97},{"p":"NO2a","k":"b","s":"1.0E-21","x":10,"y":2.96},{"p":"NO2a","k":"b","s":"1.0E-21","x":11,"y":3.02},{"p":"NO2a","k":"b","s":"1.0E-21","x":12,"y":2.97},{"p":"NO2a","k":"b","s":"1.0E-21","x":13,"y":2.78},{"p":"NO2a","k":"b","s":"1.0E-21","x":14,"y":2.52},{"p":"NO2a","k":"b","s":"1.0E-21","x":15,"y":2.3},{"p":"NO2a","k":"b","s":"1.0E-21","x":16,"y":2.12},{"p":"NO2a","k":"b","s":"1.0E-21","x":17,"y":1.98},
{"p":"NO2a","k":"b","s":"5.0E-21","x":9.25,"y":2.95},{"p":"NO2a","k":"b","s":"5.0E-21","x":9.4,"y":2.65},{"p":"NO2a","k":"b","s":"5.0E-21","x":9.6,"y":2.47},{"p":"NO2a","k":"b","s":"5.0E-21","x":10,"y":2.43},{"p":"NO2a","k":"b","s":"5.0E-21","x":11,"y":2.5},{"p":"NO2a","k":"b","s":"5.0E-21","x":12,"y":2.45},{"p":"NO2a","k":"b","s":"5.0E-21","x":13,"y":2.3},{"p":"NO2a","k":"b","s":"5.0E-21","x":14,"y":2.1},{"p":"NO2a","k":"b","s":"5.0E-21","x":15,"y":1.92},{"p":"NO2a","k":"b","s":"5.0E-21","x":16,"y":1.77},{"p":"NO2a","k":"b","s":"5.0E-21","x":17,"y":1.64},
{"p":"NO2a","k":"b","s":"1.0E-20","x":9.25,"y":2.55},{"p":"NO2a","k":"b","s":"1.0E-20","x":9.4,"y":2.25},{"p":"NO2a","k":"b","s":"1.0E-20","x":9.6,"y":2.07},{"p":"NO2a","k":"b","s":"1.0E-20","x":10,"y":1.98},{"p":"NO2a","k":"b","s":"1.0E-20","x":11,"y":2.03},{"p":"NO2a","k":"b","s":"1.0E-20","x":12,"y":1.98},{"p":"NO2a","k":"b","s":"1.0E-20","x":13,"y":1.85},{"p":"NO2a","k":"b","s":"1.0E-20","x":14,"y":1.7},{"p":"NO2a","k":"b","s":"1.0E-20","x":15,"y":1.56},{"p":"NO2a","k":"b","s":"1.0E-20","x":16,"y":1.45},{"p":"NO2a","k":"b","s":"1.0E-20","x":17,"y":1.38},
{"p":"NO2a","k":"b","s":"1.0E-23","x":9.25,"y":3.4},{"p":"NO2a","k":"b","s":"1.0E-23","x":9.4,"y":3.2},{"p":"NO2a","k":"b","s":"1.0E-23","x":9.6,"y":3.08},{"p":"NO2a","k":"b","s":"1.0E-23","x":10,"y":3.08},{"p":"NO2a","k":"b","s":"1.0E-23","x":11,"y":3.17},{"p":"NO2a","k":"b","s":"1.0E-23","x":12,"y":3.12},{"p":"NO2a","k":"b","s":"1.0E-23","x":13,"y":2.9},{"p":"NO2a","k":"b","s":"1.0E-23","x":14,"y":2.62},{"p":"NO2a","k":"b","s":"1.0E-23","x":15,"y":2.4},{"p":"NO2a","k":"b","s":"1.0E-23","x":16,"y":2.22},{"p":"NO2a","k":"b","s":"1.0E-23","x":17,"y":2.07},
{"p":"HONOa","k":"a","s":"1.0E-22","x":9.25,"y":2.0},{"p":"HONOa","k":"a","s":"1.0E-22","x":10,"y":2.38},{"p":"HONOa","k":"a","s":"1.0E-22","x":11,"y":2.76},{"p":"HONOa","k":"a","s":"1.0E-22","x":12,"y":3.15},{"p":"HONOa","k":"a","s":"1.0E-22","x":13,"y":3.55},{"p":"HONOa","k":"a","s":"1.0E-22","x":14,"y":3.95},{"p":"HONOa","k":"a","s":"1.0E-22","x":15,"y":4.35},{"p":"HONOa","k":"a","s":"1.0E-22","x":16,"y":4.68},{"p":"HONOa","k":"a","s":"1.0E-22","x":17,"y":5.0},
{"p":"HONOa","k":"a","s":"1.0E-21","x":9.25,"y":2.0},{"p":"HONOa","k":"a","s":"1.0E-21","x":10,"y":2.35},{"p":"HONOa","k":"a","s":"1.0E-21","x":11,"y":2.72},{"p":"HONOa","k":"a","s":"1.0E-21","x":12,"y":3.08},{"p":"HONOa","k":"a","s":"1.0E-21","x":13,"y":3.45},{"p":"HONOa","k":"a","s":"1.0E-21","x":14,"y":3.82},{"p":"HONOa","k":"a","s":"1.0E-21","x":15,"y":4.18},{"p":"HONOa","k":"a","s":"1.0E-21","x":16,"y":4.48},{"p":"HONOa","k":"a","s":"1.0E-21","x":17,"y":4.75},
{"p":"HONOa","k":"a","s":"5.0E-21","x":9.25,"y":2.0},{"p":"HONOa","k":"a","s":"5.0E-21","x":10,"y":2.25},{"p":"HONOa","k":"a","s":"5.0E-21","x":11,"y":2.52},{"p":"HONOa","k":"a","s":"5.0E-21","x":12,"y":2.8},{"p":"HONOa","k":"a","s":"5.0E-21","x":13,"y":3.08},{"p":"HONOa","k":"a","s":"5.0E-21","x":14,"y":3.35},{"p":"HONOa","k":"a","s":"5.0E-21","x":15,"y":3.62},{"p":"HONOa","k":"a","s":"5.0E-21","x":16,"y":3.83},{"p":"HONOa","k":"a","s":"5.0E-21","x":17,"y":4.0},
{"p":"HONOa","k":"a","s":"1.0E-20","x":9.25,"y":2.0},{"p":"HONOa","k":"a","s":"1.0E-20","x":10,"y":2.14},{"p":"HONOa","k":"a","s":"1.0E-20","x":11,"y":2.3},{"p":"HONOa","k":"a","s":"1.0E-20","x":12,"y":2.47},{"p":"HONOa","k":"a","s":"1.0E-20","x":13,"y":2.64},{"p":"HONOa","k":"a","s":"1.0E-20","x":14,"y":2.82},{"p":"HONOa","k":"a","s":"1.0E-20","x":15,"y":3.0},{"p":"HONOa","k":"a","s":"1.0E-20","x":16,"y":3.18},{"p":"HONOa","k":"a","s":"1.0E-20","x":17,"y":3.35},
{"p":"HONOa","k":"a","s":"1.0E-23","x":9.25,"y":2.0},{"p":"HONOa","k":"a","s":"1.0E-23","x":10,"y":2.38},{"p":"HONOa","k":"a","s":"1.0E-23","x":11,"y":2.76},{"p":"HONOa","k":"a","s":"1.0E-23","x":12,"y":3.15},{"p":"HONOa","k":"a","s":"1.0E-23","x":13,"y":3.55},{"p":"HONOa","k":"a","s":"1.0E-23","x":14,"y":3.95},{"p":"HONOa","k":"a","s":"1.0E-23","x":15,"y":4.35},{"p":"HONOa","k":"a","s":"1.0E-23","x":16,"y":4.68},{"p":"HONOa","k":"a","s":"1.0E-23","x":17,"y":5.0},
{"p":"HONOa","k":"b","s":"1.0E-22","x":9.25,"y":4.1},{"p":"HONOa","k":"b","s":"1.0E-22","x":10,"y":5.15},{"p":"HONOa","k":"b","s":"1.0E-22","x":11,"y":6.2},{"p":"HONOa","k":"b","s":"1.0E-22","x":12,"y":6.9},{"p":"HONOa","k":"b","s":"1.0E-22","x":13,"y":7.3},{"p":"HONOa","k":"b","s":"1.0E-22","x":14,"y":7.48},{"p":"HONOa","k":"b","s":"1.0E-22","x":15,"y":7.5},{"p":"HONOa","k":"b","s":"1.0E-22","x":16,"y":7.45},{"p":"HONOa","k":"b","s":"1.0E-22","x":17,"y":7.35},
{"p":"HONOa","k":"b","s":"1.0E-21","x":9.25,"y":4.1},{"p":"HONOa","k":"b","s":"1.0E-21","x":10,"y":5.05},{"p":"HONOa","k":"b","s":"1.0E-21","x":11,"y":6.0},{"p":"HONOa","k":"b","s":"1.0E-21","x":12,"y":6.65},{"p":"HONOa","k":"b","s":"1.0E-21","x":13,"y":7.0},{"p":"HONOa","k":"b","s":"1.0E-21","x":14,"y":7.17},{"p":"HONOa","k":"b","s":"1.0E-21","x":15,"y":7.2},{"p":"HONOa","k":"b","s":"1.0E-21","x":16,"y":7.15},{"p":"HONOa","k":"b","s":"1.0E-21","x":17,"y":7.05},
{"p":"HONOa","k":"b","s":"5.0E-21","x":9.25,"y":4.05},{"p":"HONOa","k":"b","s":"5.0E-21","x":10,"y":4.72},{"p":"HONOa","k":"b","s":"5.0E-21","x":11,"y":5.4},{"p":"HONOa","k":"b","s":"5.0E-21","x":12,"y":5.85},{"p":"HONOa","k":"b","s":"5.0E-21","x":13,"y":6.05},{"p":"HONOa","k":"b","s":"5.0E-21","x":14,"y":6.12},{"p":"HONOa","k":"b","s":"5.0E-21","x":15,"y":6.1},{"p":"HONOa","k":"b","s":"5.0E-21","x":16,"y":6.02},{"p":"HONOa","k":"b","s":"5.0E-21","x":17,"y":5.9},
{"p":"HONOa","k":"b","s":"1.0E-20","x":9.25,"y":4.0},{"p":"HONOa","k":"b","s":"1.0E-20","x":10,"y":4.45},{"p":"HONOa","k":"b","s":"1.0E-20","x":11,"y":4.9},{"p":"HONOa","k":"b","s":"1.0E-20","x":12,"y":5.15},{"p":"HONOa","k":"b","s":"1.0E-20","x":13,"y":5.28},{"p":"HONOa","k":"b","s":"1.0E-20","x":14,"y":5.27},{"p":"HONOa","k":"b","s":"1.0E-20","x":15,"y":5.18},{"p":"HONOa","k":"b","s":"1.0E-20","x":16,"y":5.07},{"p":"HONOa","k":"b","s":"1.0E-20","x":17,"y":4.95},
{"p":"HONOa","k":"b","s":"1.0E-23","x":9.25,"y":4.1},{"p":"HONOa","k":"b","s":"1.0E-23","x":10,"y":5.15},{"p":"HONOa","k":"b","s":"1.0E-23","x":11,"y":6.2},{"p":"HONOa","k":"b","s":"1.0E-23","x":12,"y":6.9},{"p":"HONOa","k":"b","s":"1.0E-23","x":13,"y":7.3},{"p":"HONOa","k":"b","s":"1.0E-23","x":14,"y":7.48},{"p":"HONOa","k":"b","s":"1.0E-23","x":15,"y":7.5},{"p":"HONOa","k":"b","s":"1.0E-23","x":16,"y":7.45},{"p":"HONOa","k":"b","s":"1.0E-23","x":17,"y":7.35},
{"p":"HNO3a","k":"a","s":"1.0E-22","x":9.25,"y":0.31},{"p":"HNO3a","k":"a","s":"1.0E-22","x":9.4,"y":0.295},{"p":"HNO3a","k":"a","s":"1.0E-22","x":9.6,"y":0.27},{"p":"HNO3a","k":"a","s":"1.0E-22","x":10,"y":0.245},{"p":"HNO3a","k":"a","s":"1.0E-22","x":10.5,"y":0.23},{"p":"HNO3a","k":"a","s":"1.0E-22","x":11,"y":0.218},{"p":"HNO3a","k":"a","s":"1.0E-22","x":12,"y":0.198},{"p":"HNO3a","k":"a","s":"1.0E-22","x":13,"y":0.185},{"p":"HNO3a","k":"a","s":"1.0E-22","x":14,"y":0.176},{"p":"HNO3a","k":"a","s":"1.0E-22","x":15,"y":0.168},{"p":"HNO3a","k":"a","s":"1.0E-22","x":16,"y":0.16},{"p":"HNO3a","k":"a","s":"1.0E-22","x":17,"y":0.148},
{"p":"HNO3a","k":"a","s":"1.0E-21","x":9.25,"y":0.305},{"p":"HNO3a","k":"a","s":"1.0E-21","x":9.4,"y":0.288},{"p":"HNO3a","k":"a","s":"1.0E-21","x":9.6,"y":0.263},{"p":"HNO3a","k":"a","s":"1.0E-21","x":10,"y":0.238},{"p":"HNO3a","k":"a","s":"1.0E-21","x":10.5,"y":0.222},{"p":"HNO3a","k":"a","s":"1.0E-21","x":11,"y":0.21},{"p":"HNO3a","k":"a","s":"1.0E-21","x":12,"y":0.192},{"p":"HNO3a","k":"a","s":"1.0E-21","x":13,"y":0.18},{"p":"HNO3a","k":"a","s":"1.0E-21","x":14,"y":0.172},{"p":"HNO3a","k":"a","s":"1.0E-21","x":15,"y":0.165},{"p":"HNO3a","k":"a","s":"1.0E-21","x":16,"y":0.158},{"p":"HNO3a","k":"a","s":"1.0E-21","x":17,"y":0.146},
{"p":"HNO3a","k":"a","s":"5.0E-21","x":9.25,"y":0.285},{"p":"HNO3a","k":"a","s":"5.0E-21","x":9.4,"y":0.265},{"p":"HNO3a","k":"a","s":"5.0E-21","x":9.6,"y":0.24},{"p":"HNO3a","k":"a","s":"5.0E-21","x":10,"y":0.218},{"p":"HNO3a","k":"a","s":"5.0E-21","x":10.5,"y":0.205},{"p":"HNO3a","k":"a","s":"5.0E-21","x":11,"y":0.195},{"p":"HNO3a","k":"a","s":"5.0E-21","x":12,"y":0.18},{"p":"HNO3a","k":"a","s":"5.0E-21","x":13,"y":0.17},{"p":"HNO3a","k":"a","s":"5.0E-21","x":14,"y":0.163},{"p":"HNO3a","k":"a","s":"5.0E-21","x":15,"y":0.157},{"p":"HNO3a","k":"a","s":"5.0E-21","x":16,"y":0.152},{"p":"HNO3a","k":"a","s":"5.0E-21","x":17,"y":0.145},
{"p":"HNO3a","k":"a","s":"1.0E-20","x":9.25,"y":0.262},{"p":"HNO3a","k":"a","s":"1.0E-20","x":9.4,"y":0.21},{"p":"HNO3a","k":"a","s":"1.0E-20","x":9.6,"y":0.18},{"p":"HNO3a","k":"a","s":"1.0E-20","x":10,"y":0.166},{"p":"HNO3a","k":"a","s":"1.0E-20","x":10.5,"y":0.162},{"p":"HNO3a","k":"a","s":"1.0E-20","x":11,"y":0.158},{"p":"HNO3a","k":"a","s":"1.0E-20","x":12,"y":0.153},{"p":"HNO3a","k":"a","s":"1.0E-20","x":13,"y":0.15},{"p":"HNO3a","k":"a","s":"1.0E-20","x":14,"y":0.148},{"p":"HNO3a","k":"a","s":"1.0E-20","x":15,"y":0.145},{"p":"HNO3a","k":"a","s":"1.0E-20","x":16,"y":0.143},{"p":"HNO3a","k":"a","s":"1.0E-20","x":17,"y":0.141},
{"p":"HNO3a","k":"a","s":"1.0E-23","x":9.25,"y":0.31},{"p":"HNO3a","k":"a","s":"1.0E-23","x":9.4,"y":0.295},{"p":"HNO3a","k":"a","s":"1.0E-23","x":9.6,"y":0.27},{"p":"HNO3a","k":"a","s":"1.0E-23","x":10,"y":0.245},{"p":"HNO3a","k":"a","s":"1.0E-23","x":10.5,"y":0.23},{"p":"HNO3a","k":"a","s":"1.0E-23","x":11,"y":0.218},{"p":"HNO3a","k":"a","s":"1.0E-23","x":12,"y":0.198},{"p":"HNO3a","k":"a","s":"1.0E-23","x":13,"y":0.185},{"p":"HNO3a","k":"a","s":"1.0E-23","x":14,"y":0.176},{"p":"HNO3a","k":"a","s":"1.0E-23","x":15,"y":0.168},{"p":"HNO3a","k":"a","s":"1.0E-23","x":16,"y":0.16},{"p":"HNO3a","k":"a","s":"1.0E-23","x":17,"y":0.148},
{"p":"HNO3a","k":"b","s":"1.0E-22","x":9.25,"y":0.315},{"p":"HNO3a","k":"b","s":"1.0E-22","x":9.4,"y":0.3},{"p":"HNO3a","k":"b","s":"1.0E-22","x":9.6,"y":0.28},{"p":"HNO3a","k":"b","s":"1.0E-22","x":10,"y":0.25},{"p":"HNO3a","k":"b","s":"1.0E-22","x":10.5,"y":0.232},{"p":"HNO3a","k":"b","s":"1.0E-22","x":11,"y":0.215},{"p":"HNO3a","k":"b","s":"1.0E-22","x":12,"y":0.183},{"p":"HNO3a","k":"b","s":"1.0E-22","x":13,"y":0.155},{"p":"HNO3a","k":"b","s":"1.0E-22","x":14,"y":0.133},{"p":"HNO3a","k":"b","s":"1.0E-22","x":15,"y":0.121},{"p":"HNO3a","k":"b","s":"1.0E-22","x":16,"y":0.113},{"p":"HNO3a","k":"b","s":"1.0E-22","x":17,"y":0.108},
{"p":"HNO3a","k":"b","s":"1.0E-21","x":9.25,"y":0.302},{"p":"HNO3a","k":"b","s":"1.0E-21","x":9.4,"y":0.285},{"p":"HNO3a","k":"b","s":"1.0E-21","x":9.6,"y":0.262},{"p":"HNO3a","k":"b","s":"1.0E-21","x":10,"y":0.232},{"p":"HNO3a","k":"b","s":"1.0E-21","x":10.5,"y":0.213},{"p":"HNO3a","k":"b","s":"1.0E-21","x":11,"y":0.2},{"p":"HNO3a","k":"b","s":"1.0E-21","x":12,"y":0.172},{"p":"HNO3a","k":"b","s":"1.0E-21","x":13,"y":0.147},{"p":"HNO3a","k":"b","s":"1.0E-21","x":14,"y":0.128},{"p":"HNO3a","k":"b","s":"1.0E-21","x":15,"y":0.117},{"p":"HNO3a","k":"b","s":"1.0E-21","x":16,"y":0.11},{"p":"HNO3a","k":"b","s":"1.0E-21","x":17,"y":0.105},
{"p":"HNO3a","k":"b","s":"5.0E-21","x":9.25,"y":0.282},{"p":"HNO3a","k":"b","s":"5.0E-21","x":9.4,"y":0.255},{"p":"HNO3a","k":"b","s":"5.0E-21","x":9.6,"y":0.232},{"p":"HNO3a","k":"b","s":"5.0E-21","x":10,"y":0.205},{"p":"HNO3a","k":"b","s":"5.0E-21","x":10.5,"y":0.19},{"p":"HNO3a","k":"b","s":"5.0E-21","x":11,"y":0.178},{"p":"HNO3a","k":"b","s":"5.0E-21","x":12,"y":0.158},{"p":"HNO3a","k":"b","s":"5.0E-21","x":13,"y":0.138},{"p":"HNO3a","k":"b","s":"5.0E-21","x":14,"y":0.122},{"p":"HNO3a","k":"b","s":"5.0E-21","x":15,"y":0.112},{"p":"HNO3a","k":"b","s":"5.0E-21","x":16,"y":0.106},{"p":"HNO3a","k":"b","s":"5.0E-21","x":17,"y":0.102},
{"p":"HNO3a","k":"b","s":"1.0E-20","x":9.25,"y":0.255},{"p":"HNO3a","k":"b","s":"1.0E-20","x":9.4,"y":0.2},{"p":"HNO3a","k":"b","s":"1.0E-20","x":9.6,"y":0.178},{"p":"HNO3a","k":"b","s":"1.0E-20","x":10,"y":0.165},{"p":"HNO3a","k":"b","s":"1.0E-20","x":10.5,"y":0.158},{"p":"HNO3a","k":"b","s":"1.0E-20","x":11,"y":0.152},{"p":"HNO3a","k":"b","s":"1.0E-20","x":12,"y":0.138},{"p":"HNO3a","k":"b","s":"1.0E-20","x":13,"y":0.125},{"p":"HNO3a","k":"b","s":"1.0E-20","x":14,"y":0.115},{"p":"HNO3a","k":"b","s":"1.0E-20","x":15,"y":0.108},{"p":"HNO3a","k":"b","s":"1.0E-20","x":16,"y":0.103},{"p":"HNO3a","k":"b","s":"1.0E-20","x":17,"y":0.1},
{"p":"HNO3a","k":"b","s":"1.0E-23","x":9.25,"y":0.315},{"p":"HNO3a","k":"b","s":"1.0E-23","x":9.4,"y":0.3},{"p":"HNO3a","k":"b","s":"1.0E-23","x":9.6,"y":0.28},{"p":"HNO3a","k":"b","s":"1.0E-23","x":10,"y":0.25},{"p":"HNO3a","k":"b","s":"1.0E-23","x":10.5,"y":0.232},{"p":"HNO3a","k":"b","s":"1.0E-23","x":11,"y":0.215},{"p":"HNO3a","k":"b","s":"1.0E-23","x":12,"y":0.183},{"p":"HNO3a","k":"b","s":"1.0E-23","x":13,"y":0.155},{"p":"HNO3a","k":"b","s":"1.0E-23","x":14,"y":0.133},{"p":"HNO3a","k":"b","s":"1.0E-23","x":15,"y":0.121},{"p":"HNO3a","k":"b","s":"1.0E-23","x":16,"y":0.113},{"p":"HNO3a","k":"b","s":"1.0E-23","x":17,"y":0.108}
]
},
"resolve": {"scale": {"color": "independent", "strokeDash": "independent"}, "legend": {"color": "independent", "strokeDash": "independent"}},
"spacing": 7,
"vconcat": [
{
"spacing": 33.5, "bounds": "flush",
"resolve": {"scale": {"color": "independent", "strokeDash": "independent"}, "legend": {"color": "independent", "strokeDash": "independent"}},
"hconcat": [
{"title": "NO", "width": 89, "height": 96,
 "encoding": {"x": {"field": "x", "type": "quantitative", "scale": {"domain": [8.9, 17.5], "nice": false, "zero": false}, "axis": {"values": [10, 15], "title": null}},
  "y": {"field": "y", "type": "quantitative", "scale": {"domain": [0.39, 5.02], "nice": false, "zero": false}, "axis": {"values": [1, 2, 3, 4], "title": "C (μg m⁻³)"}}},
 "layer": [
  {"data": {"name": "obs"}, "transform": [{"filter": "datum.p == 'NO'"}], "mark": {"type": "circle", "size": 4, "color": "#1f77b4", "opacity": 1, "clip": true}},
  {"data": {"name": "lines"}, "transform": [{"filter": "datum.p == 'NO'"}], "mark": {"type": "line", "interpolate": "monotone", "clip": true},
   "encoding": {"color": {"field": "s", "type": "nominal", "scale": {"domain": ["1.0E-23","1.0E-22","1.0E-21","5.0E-21","1.0E-20"], "range": ["#000000","#6e1440","#5050d0","#8c8cff","#b0b040"]}, "legend": null},
    "strokeDash": {"field": "s", "type": "nominal", "scale": {"domain": ["1.0E-23","1.0E-22","1.0E-21","5.0E-21","1.0E-20"], "range": [[2,1.5],[1,0],[1,0],[1,0],[1,0]]}, "legend": null}}}
 ]},
{"title": "NO₂", "width": 89, "height": 96,
 "encoding": {"x": {"field": "x", "type": "quantitative", "scale": {"domain": [8.9, 17.5], "nice": false, "zero": false}, "axis": {"values": [10, 15], "title": null}},
  "y": {"field": "y", "type": "quantitative", "scale": {"domain": [1.5, 11.5], "nice": false, "zero": false}, "axis": {"values": [2, 4, 6, 8, 10], "title": null}}},
 "layer": [
  {"data": {"name": "obs"}, "transform": [{"filter": "datum.p == 'NO2'"}], "mark": {"type": "circle", "size": 4, "color": "#1f77b4", "opacity": 1, "clip": true}},
  {"data": {"name": "lines"}, "transform": [{"filter": "datum.p == 'NO2'"}], "mark": {"type": "line", "interpolate": "monotone", "clip": true},
   "encoding": {"color": {"field": "s", "type": "nominal", "scale": {"domain": ["1.0E-23","1.0E-22","1.0E-21","5.0E-21","1.0E-20"], "range": ["#000000","#6e1440","#5050d0","#8c8cff","#b0b040"]}, "legend": null},
    "strokeDash": {"field": "s", "type": "nominal", "scale": {"domain": ["1.0E-23","1.0E-22","1.0E-21","5.0E-21","1.0E-20"], "range": [[2,1.5],[1,0],[1,0],[1,0],[1,0]]}, "legend": null}}}
 ]},
{"title": "HONO", "width": 89, "height": 96,
 "encoding": {"x": {"field": "x", "type": "quantitative", "scale": {"domain": [8.9, 17.5], "nice": false, "zero": false}, "axis": {"values": [10, 15], "title": null}},
  "y": {"field": "y", "type": "quantitative", "scale": {"domain": [2.26, 5.7], "nice": false, "zero": false}, "axis": {"values": [3, 4, 5], "title": null}}},
 "layer": [
  {"data": {"name": "obs"}, "transform": [{"filter": "datum.p == 'HONO'"}], "mark": {"type": "circle", "size": 4, "color": "#1f77b4", "opacity": 1, "clip": true}},
  {"data": {"name": "lines"}, "transform": [{"filter": "datum.p == 'HONO'"}], "mark": {"type": "line", "interpolate": "monotone", "clip": true},
   "encoding": {"color": {"field": "s", "type": "nominal", "scale": {"domain": ["1.0E-23","1.0E-22","1.0E-21","5.0E-21","1.0E-20"], "range": ["#000000","#6e1440","#5050d0","#8c8cff","#b0b040"]}, "legend": null},
    "strokeDash": {"field": "s", "type": "nominal", "scale": {"domain": ["1.0E-23","1.0E-22","1.0E-21","5.0E-21","1.0E-20"], "range": [[2,1.5],[1,0],[1,0],[1,0],[1,0]]}, "legend": null}}}
 ]},
{"title": "O₃", "width": 89, "height": 96,
 "encoding": {"x": {"field": "x", "type": "quantitative", "scale": {"domain": [8.9, 17.5], "nice": false, "zero": false}, "axis": {"values": [10, 15], "title": null}},
  "y": {"field": "y", "type": "quantitative", "scale": {"domain": [-0.3, 6.4], "nice": false, "zero": false}, "axis": {"values": [0, 2, 4, 6], "title": null}}},
 "layer": [
  {"data": {"name": "obs"}, "transform": [{"filter": "datum.p == 'O3'"}], "mark": {"type": "circle", "size": 4, "color": "#1f77b4", "opacity": 1, "clip": true}},
  {"data": {"name": "lines"}, "transform": [{"filter": "datum.p == 'O3'"}], "mark": {"type": "line", "interpolate": "monotone", "clip": true},
   "encoding": {"color": {"field": "s", "type": "nominal", "scale": {"domain": ["1.0E-23","1.0E-22","1.0E-21","5.0E-21","1.0E-20"], "range": ["#000000","#6e1440","#5050d0","#8c8cff","#b0b040"]},
     "legend": {"title": null, "orient": "top-left", "offset": 3, "padding": 3, "rowPadding": 0.5, "symbolType": "stroke", "symbolSize": 150, "symbolStrokeWidth": 1.4, "labelFont": "DejaVu Sans", "labelFontSize": 8, "labelColor": "#222", "labelOffset": 5, "strokeColor": "#cccccc", "fillColor": "rgba(255,255,255,0.85)", "cornerRadius": 2}},
    "strokeDash": {"field": "s", "type": "nominal", "scale": {"domain": ["1.0E-23","1.0E-22","1.0E-21","5.0E-21","1.0E-20"], "range": [[2,1.5],[1,0],[1,0],[1,0],[1,0]]}}}}
 ]}
]},
{
"spacing": 33.5, "bounds": "flush",
"resolve": {"scale": {"color": "independent", "strokeDash": "independent"}, "legend": {"color": "independent", "strokeDash": "independent"}},
"hconcat": [
{"title": "NOad", "width": 89, "height": 96,
 "encoding": {"x": {"field": "x", "type": "quantitative", "scale": {"domain": [8.9, 17.5], "nice": false, "zero": false}, "axis": {"values": [10, 15], "title": "Time (GMT hour)"}},
  "y": {"field": "y", "type": "quantitative", "scale": {"domain": [0.153, 0.695], "nice": false, "zero": false}, "axis": {"values": [0.2, 0.3, 0.4, 0.5, 0.6], "format": ".1f", "title": "C (μg m⁻³)"}},
  "color": {"field": "s", "type": "nominal", "scale": {"domain": ["1.0E-23","1.0E-22","1.0E-21","5.0E-21","1.0E-20"], "range": ["#000000","#6e1440","#5050d0","#8c8cff","#b0b040"]}, "legend": null}},
 "layer": [
  {"data": {"name": "lines"}, "transform": [{"filter": "datum.p == 'NOa' && datum.k == 'a'"}], "mark": {"type": "line", "interpolate": "monotone", "clip": true},
   "encoding": {"strokeDash": {"field": "s", "type": "nominal", "scale": {"domain": ["1.0E-23","1.0E-22","1.0E-21","5.0E-21","1.0E-20"], "range": [[2,1.5],[1,0],[1,0],[1,0],[1,0]]}, "legend": null}}},
  {"data": {"name": "lines"}, "transform": [{"filter": "datum.p == 'NOa' && datum.k == 'b'"}], "mark": {"type": "line", "interpolate": "monotone", "clip": true, "strokeDash": [4, 2]}}
 ]},
{"title": "NO₂ad", "width": 89, "height": 96,
 "encoding": {"x": {"field": "x", "type": "quantitative", "scale": {"domain": [8.9, 17.5], "nice": false, "zero": false}, "axis": {"values": [10, 15], "title": "Time (GMT hour)"}},
  "y": {"field": "y", "type": "quantitative", "scale": {"domain": [0.77, 3.55], "nice": false, "zero": false}, "axis": {"values": [1.0, 1.5, 2.0, 2.5, 3.0, 3.5], "format": ".1f", "title": null}},
  "color": {"field": "s", "type": "nominal", "scale": {"domain": ["1.0E-23","1.0E-22","1.0E-21","5.0E-21","1.0E-20"], "range": ["#000000","#6e1440","#5050d0","#8c8cff","#b0b040"]}, "legend": null}},
 "layer": [
  {"data": {"name": "lines"}, "transform": [{"filter": "datum.p == 'NO2a' && datum.k == 'a'"}], "mark": {"type": "line", "interpolate": "monotone", "clip": true},
   "encoding": {"strokeDash": {"field": "s", "type": "nominal", "scale": {"domain": ["1.0E-23","1.0E-22","1.0E-21","5.0E-21","1.0E-20"], "range": [[2,1.5],[1,0],[1,0],[1,0],[1,0]]}, "legend": null}}},
  {"data": {"name": "lines"}, "transform": [{"filter": "datum.p == 'NO2a' && datum.k == 'b'"}], "mark": {"type": "line", "interpolate": "monotone", "clip": true, "strokeDash": [4, 2]}}
 ]},
{"title": "HONOad", "width": 89, "height": 96,
 "encoding": {"x": {"field": "x", "type": "quantitative", "scale": {"domain": [8.9, 17.5], "nice": false, "zero": false}, "axis": {"values": [10, 15], "title": "Time (GMT hour)"}},
  "y": {"field": "y", "type": "quantitative", "scale": {"domain": [1.7, 7.75], "nice": false, "zero": false}, "axis": {"values": [2, 4, 6], "title": null}},
  "color": {"field": "s", "type": "nominal", "scale": {"domain": ["1.0E-23","1.0E-22","1.0E-21","5.0E-21","1.0E-20"], "range": ["#000000","#6e1440","#5050d0","#8c8cff","#b0b040"]}, "legend": null}},
 "layer": [
  {"data": {"name": "lines"}, "transform": [{"filter": "datum.p == 'HONOa' && datum.k == 'a'"}], "mark": {"type": "line", "interpolate": "monotone", "clip": true},
   "encoding": {"strokeDash": {"field": "s", "type": "nominal", "scale": {"domain": ["1.0E-23","1.0E-22","1.0E-21","5.0E-21","1.0E-20"], "range": [[2,1.5],[1,0],[1,0],[1,0],[1,0]]}, "legend": null}}},
  {"data": {"name": "lines"}, "transform": [{"filter": "datum.p == 'HONOa' && datum.k == 'b'"}], "mark": {"type": "line", "interpolate": "monotone", "clip": true, "strokeDash": [4, 2]}}
 ]},
{"title": "HNO₃ad", "width": 89, "height": 96,
 "encoding": {"x": {"field": "x", "type": "quantitative", "scale": {"domain": [8.9, 17.5], "nice": false, "zero": false}, "axis": {"values": [10, 15], "title": "Time (GMT hour)"}},
  "y": {"field": "y", "type": "quantitative", "scale": {"domain": [0.094, 0.325], "nice": false, "zero": false}, "axis": {"values": [0.1, 0.15, 0.2, 0.25, 0.3], "format": ".2f", "title": null}},
  "color": {"field": "s", "type": "nominal", "scale": {"domain": ["1.0E-23","1.0E-22","1.0E-21","5.0E-21","1.0E-20"], "range": ["#000000","#6e1440","#5050d0","#8c8cff","#b0b040"]}, "legend": null}},
 "layer": [
  {"data": {"name": "lines"}, "transform": [{"filter": "datum.p == 'HNO3a' && datum.k == 'a'"}], "mark": {"type": "line", "interpolate": "monotone", "clip": true},
   "encoding": {"strokeDash": {"field": "s", "type": "nominal", "scale": {"domain": ["1.0E-23","1.0E-22","1.0E-21","5.0E-21","1.0E-20"], "range": [[2,1.5],[1,0],[1,0],[1,0],[1,0]]}, "legend": null}}},
  {"data": {"name": "lines"}, "transform": [{"filter": "datum.p == 'HNO3a' && datum.k == 'b'"}], "mark": {"type": "line", "interpolate": "monotone", "clip": true, "strokeDash": [4, 2]}}
 ]}
]}
]
}
